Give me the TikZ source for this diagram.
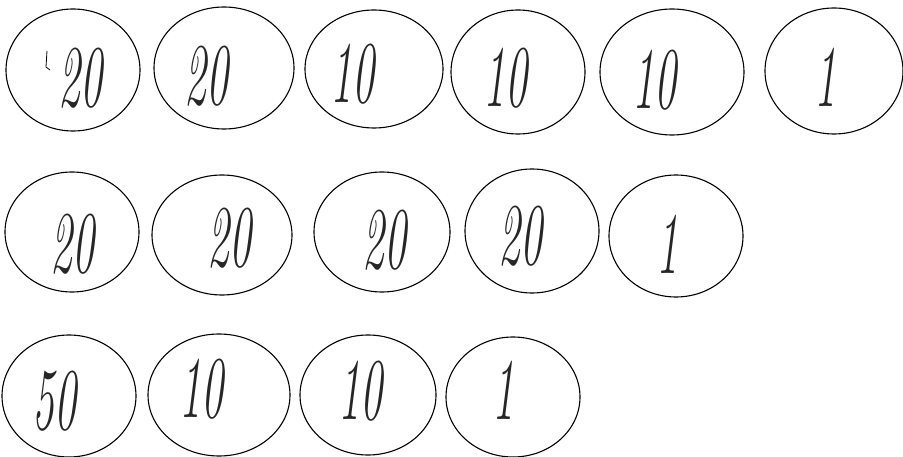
\documentclass[tikz,border=0pt]{standalone}
\usetikzlibrary{shapes.geometric}
\begin{document}
\begin{tikzpicture}[x=1pt,y=-1pt,
  coin/.style={ellipse, draw, line width=1.1pt, inner sep=0pt},
  num/.style={font=\fontsize{88}{88}\selectfont\itshape, xscale=0.5, inner sep=0pt, text=black!85}]
\useasboundingbox (0,0) rectangle (903,457);
% row 1
\node[coin, minimum width=134pt, minimum height=122pt] (a1) at (73,70) {};
\node[coin, minimum width=140pt, minimum height=122pt] (a2) at (224,68) {};
\node[coin, minimum width=138pt, minimum height=118pt] (a3) at (374,69) {};
\node[coin, minimum width=134pt, minimum height=124pt] (a4) at (518,72) {};
\node[coin, minimum width=144pt, minimum height=126pt] (a5) at (672,72) {};
\node[coin, minimum width=138pt, minimum height=126pt] (a6) at (834,71) {};
% row 2
\node[coin, minimum width=134pt, minimum height=120pt] (b1) at (72,232) {};
\node[coin, minimum width=140pt, minimum height=120pt] (b2) at (222,235) {};
\node[coin, minimum width=136pt, minimum height=120pt] (b3) at (382,232) {};
\node[coin, minimum width=134pt, minimum height=124pt] (b4) at (532,231) {};
\node[coin, minimum width=134pt, minimum height=122pt] (b5) at (676,236) {};
% row 3
\node[coin, minimum width=134pt, minimum height=122pt] (c1) at (69,396) {};
\node[coin, minimum width=142pt, minimum height=122pt] (c2) at (219,395) {};
\node[coin, minimum width=136pt, minimum height=120pt] (c3) at (368,395) {};
\node[coin, minimum width=134pt, minimum height=120pt] (c4) at (513,397) {};
% numbers
\node[num] (ta1) at (80,78) {20};
\node[num] (ta2) at (206,76) {20};
\node[num] (ta3) at (352,74) {10};
\node[num] (ta4) at (505,78) {10};
\node[num] (ta5) at (654,80) {10};
\node[num] (ta6) at (825,77) {1};
\node[num] (tb1) at (72,244) {20};
\node[num] (tb2) at (229,238) {20};
\node[num] (tb3) at (384,240) {20};
\node[num] (tb4) at (520,236) {20};
\node[num] (tb5) at (667,244) {1};
\node[num] (tc1) at (54,401) {50};
\node[num] (tc2) at (201,389) {10};
\node[num] (tc3) at (360,391) {10};
\node[num] (tc4) at (503,390) {1};
% small tick mark in first coin
\coordinate (k1) at (47,51);
\coordinate (k2) at (46,67);
\coordinate (k3) at (50,70);
\draw[line width=0.8pt] (k1) -- (k2) -- (k3);
\end{tikzpicture}
\end{document}
